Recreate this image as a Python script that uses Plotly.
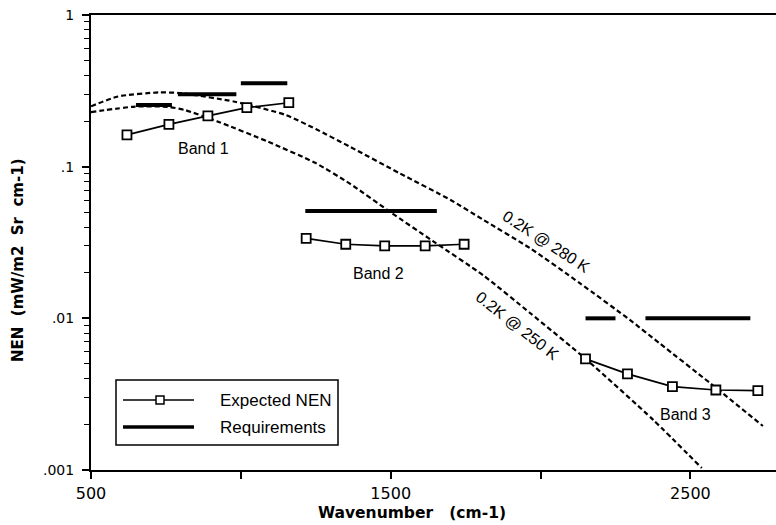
import plotly.graph_objects as go

# ---- data -------------------------------------------------------------
# Expected NEN per band (wavenumber cm-1, NEN mW/m2 Sr cm-1)
band1_wn = [620, 760, 890, 1020, 1160]
band1_nen = [0.162, 0.190, 0.216, 0.245, 0.264]
band2_wn = [1218, 1350, 1480, 1615, 1745]
band2_nen = [0.0337, 0.0308, 0.0300, 0.0300, 0.0308]
band3_wn = [2150, 2290, 2440, 2585, 2725]
band3_nen = [0.0054, 0.0043, 0.00355, 0.00337, 0.00334]

# Requirement segments: start, end, level
req_start = [650, 790, 1000, 1215, 2150, 2350]
req_end = [770, 985, 1155, 1654, 2250, 2700]
req_level = [0.255, 0.30, 0.355, 0.051, 0.010, 0.010]

# 0.2 K NEdT equivalent radiance curves
t280_wn = [500, 590, 730, 800, 980, 1150, 1250, 1365, 1530, 1700, 1810,
           1965, 2132, 2298, 2399, 2565, 2742]
t280_nen = [0.25, 0.29, 0.309, 0.305, 0.268, 0.219, 0.177, 0.135, 0.0904,
            0.0603, 0.0445, 0.0290, 0.0170, 0.00976, 0.00680, 0.00375, 0.00195]
t250_wn = [500, 647, 757, 814, 924, 1091, 1248, 1365, 1500, 1642, 1809,
           1966, 2155, 2376, 2538]
t250_nen = [0.229, 0.249, 0.248, 0.236, 0.198, 0.146, 0.106, 0.077, 0.050,
            0.0322, 0.0192, 0.0108, 0.00531, 0.00214, 0.00103]

x_ticks = [500, 1000, 1500, 2000, 2500]
x_tick_text = ["500", "", "1500", "", "2500"]
y_ticks = [0.001, 0.01, 0.1, 1]
y_tick_text = [".001", ".01", ".1", "1"]

# ---- layout geometry (pixels) ------------------------------------------
W, H = 776, 525
L, R, T, B = 91, 776, 15, 470


def fx(p):
    return (p - L) / (R - L)


def fy(p):
    return (B - p) / (B - T)


SANS = "Liberation Sans, Arial, Helvetica, sans-serif"
DEJA = "DejaVu Sans, sans-serif"

fig = go.Figure()

# dashed 0.2 K curves
for wn, nen in [(t280_wn, t280_nen), (t250_wn, t250_nen)]:
    fig.add_trace(go.Scatter(
        x=wn, y=nen, mode="lines",
        line=dict(color="black", width=2.2, dash="5px,3px", shape="spline", smoothing=0.6),
        showlegend=False, hoverinfo="skip"))

# requirement bars
rx, ry = [], []
for s, e, lv in zip(req_start, req_end, req_level):
    rx += [s, e, None]
    ry += [lv, lv, None]
fig.add_trace(go.Scatter(
    x=rx, y=ry, mode="lines", line=dict(color="black", width=4),
    showlegend=False, name="Requirements"))

# expected NEN per band
for wn, nen in [(band1_wn, band1_nen), (band2_wn, band2_nen), (band3_wn, band3_nen)]:
    fig.add_trace(go.Scatter(
        x=wn, y=nen, mode="lines+markers",
        line=dict(color="black", width=1.7),
        marker=dict(symbol="square", size=9, color="white",
                    line=dict(color="black", width=1.8)),
        showlegend=False, name="Expected NEN"))

annotations = [
    dict(x=877, y=-0.877, text="Band 1"),
    dict(x=1458, y=-1.707, text="Band 2"),
    dict(x=2485, y=-2.637, text="Band 3"),
    dict(x=2018, y=-1.496, text="0.2K @ 280 K", textangle=33),
    dict(x=1921, y=-2.05, text="0.2K @ 250 K", textangle=38),
]
for a in annotations:
    a.update(xref="x", yref="y", showarrow=False,
             font=dict(family=SANS, size=16, color="black"))

# axis titles
annotations.append(dict(
    xref="paper", yref="paper", x=fx(18), y=fy(260), text="NEN  (mW/m2  Sr  cm-1)",
    textangle=-90, showarrow=False, xanchor="center", yanchor="middle",
    font=dict(family=DEJA, size=15, color="black", weight="bold")))
annotations.append(dict(
    xref="paper", yref="paper", x=fx(412), y=fy(513), text="Wavenumber   (cm-1)",
    showarrow=False, xanchor="center", yanchor="middle",
    font=dict(family=DEJA, size=15.5, color="black", weight="bold")))

# legend text
annotations.append(dict(
    xref="paper", yref="paper", x=fx(218), y=fy(400), text="Expected NEN",
    showarrow=False, xanchor="left", yanchor="middle",
    font=dict(family=SANS, size=17, color="black")))
annotations.append(dict(
    xref="paper", yref="paper", x=fx(218), y=fy(427), text="Requirements",
    showarrow=False, xanchor="left", yanchor="middle",
    font=dict(family=SANS, size=17, color="black")))

shapes = [
    dict(type="rect", xref="paper", yref="paper",
         x0=fx(116), x1=fx(338), y0=fy(445), y1=fy(380),
         line=dict(color="black", width=1.5), fillcolor="rgba(0,0,0,0)"),
    dict(type="line", xref="paper", yref="paper",
         x0=fx(123), x1=fx(194), y0=fy(400), y1=fy(400),
         line=dict(color="black", width=1.5)),
    dict(type="rect", xref="paper", yref="paper",
         x0=fx(156), x1=fx(164), y0=fy(404), y1=fy(396),
         line=dict(color="black", width=1.5), fillcolor="white"),
    dict(type="line", xref="paper", yref="paper",
         x0=fx(123), x1=fx(194), y0=fy(427), y1=fy(427),
         line=dict(color="black", width=3.5)),
]

minor_vals = [m * 10 ** e for e in (-3, -2, -1) for m in range(2, 10)]

fig.update_layout(
    width=W, height=H,
    margin=dict(l=L, r=W - R, t=T, b=H - B),
    paper_bgcolor="white", plot_bgcolor="white",
    showlegend=False,
    annotations=annotations,
    shapes=shapes,
    xaxis=dict(
        range=[500, 500 + (R - L) / 0.2997],
        tickvals=x_ticks, ticktext=x_tick_text,
        ticks="outside", ticklen=7, tickwidth=1.5, tickcolor="black",
        showline=True, linecolor="black", linewidth=2, mirror=True,
        showgrid=False, zeroline=False, ticklabelstandoff=1,
        tickfont=dict(family=DEJA, size=16, color="black"),
    ),
    yaxis=dict(
        type="log", range=[-3, 0],
        tickvals=y_ticks, ticktext=y_tick_text,
        ticks="outside", ticklen=7, tickwidth=1.5, tickcolor="black",
        minor=dict(tickvals=minor_vals, ticks="outside", ticklen=5,
                   tickwidth=1.2, tickcolor="black", showgrid=False),
        showline=True, linecolor="black", linewidth=2, mirror=False,
        showgrid=False, zeroline=False, ticklabelstandoff=5,
        tickfont=dict(family=DEJA, size=14, color="black"),
    ),
)

fig.write_html("out.html")
